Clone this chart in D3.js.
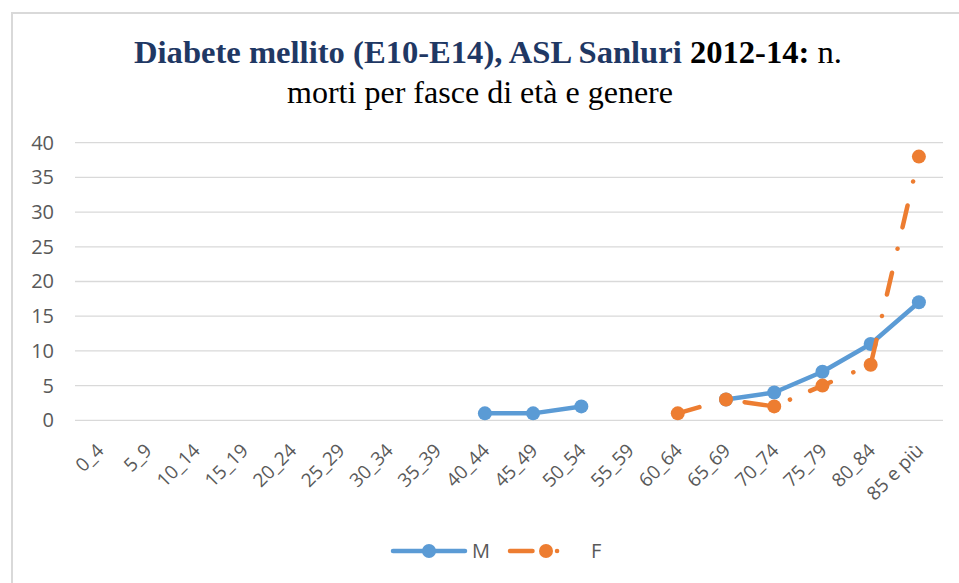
<!DOCTYPE html>
<meta charset="utf-8">
<style>
 body { margin: 0; background: #fff; }
 .axis text { font: 20px "Open Sans", sans-serif; fill: #595959; }
 .title { font-family: "Liberation Serif", "Times New Roman", serif; font-size: 32px; }
</style>
<body>
<svg width="959" height="583"></svg>
<script src="https://cdn.jsdelivr.net/npm/d3@7"></script>
<script>

 // age classes on the x axis
 var fasce = ["0_4", "5_9", "10_14", "15_19", "20_24", "25_29", "30_34", "35_39", "40_44",
              "45_49", "50_54", "55_59", "60_64", "65_69", "70_74", "75_79", "80_84", "85 e più"];

 // deaths, males (null = no value, line broken)
 var maschi = [null, null, null, null, null, null, null, null, 1, 1, 2, null, null, 3, 4, 7, 11, 17];

 // deaths, females
 var femmine = [null, null, null, null, null, null, null, null, null, null, null, null, 1, 3, 2, 5, 8, 38];

 var yTicks = [0, 5, 10, 15, 20, 25, 30, 35, 40];

 var svg = d3.select("svg");

 // outer frame of the chart area
 svg.append("rect")
    .attr("x", 12).attr("y", 13)
    .attr("width", 980).attr("height", 600)
    .attr("fill", "none")
    .attr("stroke", "#d9d9d9")
    .attr("stroke-width", 2);

 // title
 var t1 = svg.append("text").attr("class", "title")
    .attr("x", 488).attr("y", 63).attr("text-anchor", "middle")
    .attr("textLength", 708).attr("lengthAdjust", "spacingAndGlyphs");
 t1.append("tspan").attr("font-weight", "bold").attr("fill", "#1f3864").text("Diabete mellito (E10-E14), ASL Sanluri ");
 t1.append("tspan").attr("font-weight", "bold").attr("fill", "#000").text("2012-14:");
 t1.append("tspan").attr("fill", "#000").text(" n.");
 svg.append("text").attr("class", "title")
    .attr("x", 480).attr("y", 103).attr("text-anchor", "middle")
    .attr("textLength", 386).attr("lengthAdjust", "spacingAndGlyphs")
    .attr("fill", "#000")
    .text("morti per fasce di età e genere");

 var x = d3.scalePoint().domain(fasce).range([75, 943]).padding(0.5);
 var y = d3.scaleLinear().domain([0, 40]).range([420.3, 142.7]);

 // gridlines
 svg.append("g")
    .selectAll("line")
    .data(yTicks)
    .enter().append("line")
    .attr("x1", 75).attr("x2", 943)
    .attr("y1", function(d) { return y(d); })
    .attr("y2", function(d) { return y(d); })
    .attr("stroke", "#d9d9d9")
    .attr("stroke-width", 1.3);

 // y axis labels
 var yAxis = svg.append("g").attr("class", "axis")
    .attr("transform", "translate(62,0)")
    .call(d3.axisLeft(y).tickValues(yTicks).tickSize(0).tickPadding(8));
 yAxis.select(".domain").remove();

 // x axis labels, rotated
 var xAxis = svg.append("g").attr("class", "axis");
 xAxis.selectAll("text")
    .data(fasce)
    .enter().append("text")
    .attr("transform", function(d) { return "translate(" + (x(d) + 1) + ",447) rotate(-45)"; })
    .attr("text-anchor", "end")
    .attr("dy", "0.35em")
    .style("font-size", "19px")
    .text(function(d) { return d; });

 var serie = [
     { nome: "M", valori: maschi, colore: "#5b9bd5", dash: null },
     { nome: "F", valori: femmine, colore: "#ed7d31", dash: "22.5,24.5,0.1,21.9" }
 ];

 var line = d3.line()
    .defined(function(d) { return d != null; })
    .x(function(d, i) { return x(fasce[i]); })
    .y(function(d) { return y(d); });

 serie.forEach(function(s) {
     var g = svg.append("g");
     g.append("path")
      .attr("d", line(s.valori))
      .attr("fill", "none")
      .attr("stroke", s.colore)
      .attr("stroke-width", 4.5)
      .attr("stroke-linecap", "round")
      .attr("stroke-linejoin", "round")
      .attr("stroke-dasharray", s.dash);
     g.selectAll("circle")
      .data(s.valori.map(function(v, i) { return { v: v, c: fasce[i] }; })
                    .filter(function(d) { return d.v != null; }))
      .enter().append("circle")
      .attr("cx", function(d) { return x(d.c); })
      .attr("cy", function(d) { return y(d.v); })
      .attr("r", 7)
      .attr("fill", s.colore);
 });

 // legend
 var legend = svg.append("g").attr("class", "axis");
 var lx = [393, 510];
 var lw = [72, 50];
 serie.forEach(function(s, i) {
     var g = legend.append("g").attr("transform", "translate(" + lx[i] + ",551)");
     g.append("line")
      .attr("x1", 0).attr("x2", lw[i])
      .attr("stroke", s.colore)
      .attr("stroke-width", 4.5)
      .attr("stroke-linecap", "round")
      .attr("stroke-dasharray", s.dash);
     g.append("circle").attr("cx", 36).attr("r", 7).attr("fill", s.colore);
     g.append("text").attr("x", i === 0 ? 79 : 81).attr("dy", "0.35em").text(s.nome);
 });

</script>
</body>
